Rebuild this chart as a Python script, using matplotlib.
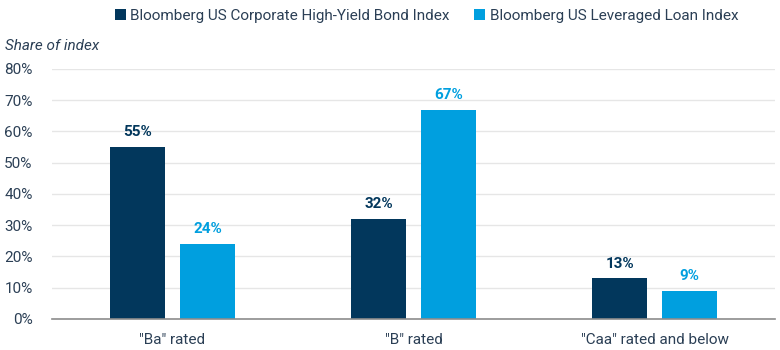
import matplotlib
matplotlib.use("Agg")
import matplotlib.pyplot as plt
import numpy as np

categories = ['"Ba" rated', '"B" rated', '"Caa" rated and below']
series_names = ["Bloomberg US Corporate High-Yield Bond Index", "Bloomberg US Leveraged Loan Index"]
hy_values = [55, 32, 13]
loan_values = [24, 67, 9]
yticks = [0, 10, 20, 30, 40, 50, 60, 70, 80]

dark = "#02375C"
light = "#009FDF"
txt = "#2B3F55"

plt.rcParams['font.family'] = ['Roboto', 'DejaVu Sans']

fig = plt.figure(figsize=(7.8, 3.5), dpi=100)
ax = fig.add_axes([0.0667, 0.0886, 0.927, 0.7143])

x = np.arange(len(categories))
w = 0.228
off = 0.145
b1 = ax.bar(x - off, hy_values, w, color=dark, label=series_names[0], zorder=3)
b2 = ax.bar(x + off, loan_values, w, color=light, label=series_names[1], zorder=3)

for xi, v in zip(x, hy_values):
    ax.text(xi - off, v + 2.5, f"{v}%", ha="center", va="bottom", fontsize=11,
            fontweight="bold", color=dark)
for xi, v in zip(x, loan_values):
    ax.text(xi + off, v + 2.5, f"{v}%", ha="center", va="bottom", fontsize=11,
            fontweight="bold", color=light)

ax.set_xlim(-0.5, 2.5)
ax.set_ylim(0, 80)
ax.set_yticks(yticks)
ax.set_yticklabels([f"{t}%" for t in yticks], fontsize=11, color=txt)
ax.set_xticks(x)
ax.set_xticklabels(categories, fontsize=11, color=txt)
ax.tick_params(axis="both", length=0)
ax.tick_params(axis="y", pad=14)
ax.tick_params(axis="x", pad=10)
ax.grid(axis="y", color="#E6E6E6", linewidth=1, zorder=0)
for s in ["top", "right", "left"]:
    ax.spines[s].set_visible(False)
ax.spines["bottom"].set_color("#8C8C8C")
ax.spines["bottom"].set_linewidth(1.2)
ax.spines["bottom"].set_zorder(4)

fig.text(5 / 780, 1 - 46 / 350, "Share of index", fontsize=11, style="italic",
         color=txt, va="center", ha="left")

leg = fig.legend(handles=[b1, b2], loc="center", bbox_to_anchor=(0.547, 1 - 16 / 350),
                 ncol=2, frameon=False, fontsize=11, handlelength=0.7, handleheight=0.7,
                 handletextpad=0.3, columnspacing=1.6)
for t in leg.get_texts():
    t.set_color(txt)

fig.savefig("out.png", dpi=100)
